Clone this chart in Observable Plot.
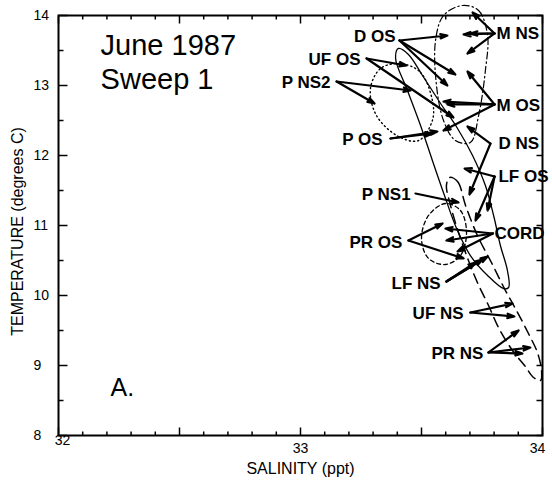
<!DOCTYPE html>
<html><head><meta charset="utf-8">
<script src="https://cdn.jsdelivr.net/npm/d3@7"></script>
<script src="https://cdn.jsdelivr.net/npm/@observablehq/plot@0.6"></script>
<style>body{margin:0;background:#fff}</style>
</head><body><div id="chart"></div>
<script>
// ---- station groups: label, arrow tail (salinity, temperature), label anchor, side
const groupNames   = ["D OS","UF OS","P NS2","P OS","P NS1","PR OS","LF NS","UF NS","PR NS","M NS","M OS","D NS","LF OS","CORD"];
const tailSalinity = [33.409,33.273,33.149,33.372,33.475,33.446,33.603,33.702,33.777,33.802,33.802,33.785,33.802,33.795];
const tailTemp     = [13.643,13.386,13.057,12.243,11.457,10.786,10.200, 9.757, 9.186,13.743,12.729,12.171,11.700,10.886];
const labelSalinity= [33.393,33.248,33.124,33.339,33.455,33.421,33.579,33.674,33.756,33.810,33.810,33.818,33.818,33.802];
const labelTemp    = [13.700,13.371,13.043,12.229,11.443,10.757,10.171, 9.743, 9.171,13.743,12.714,12.171,11.700,10.886];
const labelSide    = ["left","left","left","left","left","left","left","left","left","right","right","right","right","right"];

// ---- observations (arrow heads)
const obsGroup = ["D OS","D OS","D OS","UF OS","UF OS","P NS2","P NS2","P OS","P OS","P NS1","PR OS","PR OS",
  "LF NS","LF NS","LF NS","UF NS","UF NS","PR NS","PR NS","PR NS","M NS","M NS","M NS","M NS",
  "M OS","M OS","M OS","M OS","D NS","D NS","LF OS","LF OS","LF OS","CORD","CORD","CORD"];
const obsSalinity = [33.607,33.640,33.607,33.438,33.632,33.306,33.455,33.545,33.566,33.653,33.587,33.674,
  33.723,33.752,33.773,33.876,33.884,33.901,33.950,33.917,33.674,33.702,33.690,33.711,
  33.591,33.607,33.690,33.591,33.690,33.698,33.678,33.773,33.723,33.599,33.603,33.649];
const obsTemp = [13.714,13.157,13.000,13.286,12.543,12.743,12.929,12.314,12.343,11.329,11.029,10.529,
  10.471,10.514,10.557, 9.886, 9.700, 9.500, 9.257, 9.171,13.729,13.743,13.457,14.043,
  12.771,12.729,13.200,12.357,12.414,11.443,11.814,11.214,11.071,10.957,10.786,10.629];

// ---- outlined regions (salinity, temperature vertices)
const regionDashDot = [[33.669,14.143],[33.736,14.071],[33.773,13.714],[33.764,13.214],[33.736,12.571],[33.702,12.186],
  [33.640,12.214],[33.591,12.500],[33.562,13.000],[33.558,13.643],[33.591,14.000]];
const regionDotted = [[33.413,13.314],[33.496,13.186],[33.545,12.786],[33.545,12.500],[33.488,12.214],[33.405,12.271],
  [33.314,12.571],[33.289,12.957],[33.331,13.243]];
const regionSolid = [[33.405,13.529],[33.446,13.443],[33.504,13.143],[33.579,12.743],[33.649,12.386],[33.711,12.000],
  [33.764,11.571],[33.798,11.143],[33.826,10.714],[33.855,10.357],[33.860,10.114],[33.839,10.100],[33.773,10.286],
  [33.702,10.571],[33.645,10.957],[33.595,11.429],[33.545,11.929],[33.496,12.429],[33.442,12.929],[33.393,13.386]];
const regionLongDash = [[33.616,11.686],[33.649,11.629],[33.682,11.286],[33.731,10.857],[33.789,10.471],[33.847,10.071],
  [33.897,9.757],[33.942,9.457],[33.979,9.186],[33.996,8.929],[33.992,8.786],[33.963,8.829],[33.926,9.000],
  [33.876,9.214],[33.818,9.543],[33.777,9.857],[33.731,10.186],[33.694,10.500],[33.653,10.900],[33.620,11.286],[33.603,11.571]];
const regionShortDash = [[33.599,11.314],[33.661,11.214],[33.686,10.900],[33.661,10.571],[33.599,10.443],[33.529,10.529],
  [33.500,10.814],[33.529,11.143]];

// ---- axes
const xMajor = [32, 32.5, 33, 33.5, 34];
const xMinor = [32.1,32.2,32.3,32.4,32.6,32.7,32.8,32.9,33.1,33.2,33.3,33.4,33.6,33.7,33.8,33.9];
const xLabels = [32, 33, 34];
const yMajor = [8, 9, 10, 11, 12, 13, 14];
const yMinor = [8.5, 9.5, 10.5, 11.5, 12.5, 13.5];
const xTitle = "SALINITY (ppt)";
const yTitle = "TEMPERATURE (degrees C)";
const annotations = [
  {text: "June 1987", s: 32.174, t: 13.43},
  {text: "Sweep 1",   s: 32.174, t: 12.957}
];
const panelLetter = {text: "A.", s: 32.215, t: 8.571};

// ---- build tables
const groups = groupNames.map((g, i) => ({g, ts: tailSalinity[i], tt: tailTemp[i], ls: labelSalinity[i], lt: labelTemp[i], side: labelSide[i]}));
const byName = new Map(groups.map(d => [d.g, d]));
const arrows = obsGroup.map((g, i) => ({g, x1: byName.get(g).ts, y1: byName.get(g).tt, x2: obsSalinity[i], y2: obsTemp[i]}));
const toRows = arr => arr.map(([s, t]) => ({s, t}));

const font = "'Liberation Sans', Arial, Helvetica, sans-serif";
const W = 552, H = 486, ML = 58, MR = 10, MT = 15, MB = 51;
const FW = W - ML - MR, FH = H - MT - MB;
const XD = [32, 34], YD = [8, 14];
// tick lengths (pixels) expressed in data units
const px2t = p => p * (YD[1] - YD[0]) / FH;
const px2s = p => p * (XD[1] - XD[0]) / FW;
const xTickRows = xMajor.map(v => ({v, len: 8})).concat(xMinor.map(v => ({v, len: 4})));
const yTickRows = yMajor.map(v => ({v, len: 9})).concat(yMinor.map(v => ({v, len: 5})));

const chart = Plot.plot({
  width: W, height: H,
  marginLeft: ML, marginRight: MR, marginTop: MT, marginBottom: MB,
  x: {domain: XD, axis: null},
  y: {domain: YD, axis: null},
  style: {fontFamily: font, background: "#fff"},
  marks: [
    // regions
    Plot.line(toRows(regionDashDot), {x: "s", y: "t", curve: "catmull-rom-closed", stroke: "black", strokeWidth: 1.2, strokeDasharray: "7,3,1.5,3"}),
    Plot.line(toRows(regionDotted), {x: "s", y: "t", curve: "catmull-rom-closed", stroke: "black", strokeWidth: 1.4, strokeDasharray: "1.2,3", strokeLinecap: "round"}),
    Plot.line(toRows(regionSolid), {x: "s", y: "t", curve: "catmull-rom-closed", stroke: "black", strokeWidth: 1.3}),
    Plot.line(toRows(regionLongDash), {x: "s", y: "t", curve: "catmull-rom-closed", stroke: "black", strokeWidth: 1.5, strokeDasharray: "10,6"}),
    Plot.line(toRows(regionShortDash), {x: "s", y: "t", curve: "catmull-rom-closed", stroke: "black", strokeWidth: 1.3, strokeDasharray: "4,3"}),
    // arrows
    Plot.arrow(arrows, {x1: "x1", y1: "y1", x2: "x2", y2: "y2", stroke: "black", strokeWidth: 2.2, headLength: 5, headAngle: 35}),
    // group labels
    Plot.text(groups.filter(d => d.side === "left"), {x: "ls", y: "lt", text: "g", textAnchor: "end", fontWeight: "bold", fontSize: 17, fill: "black"}),
    Plot.text(groups.filter(d => d.side === "right"), {x: "ls", y: "lt", text: "g", textAnchor: "start", fontWeight: "bold", fontSize: 17, fill: "black"}),
    // annotations
    Plot.text(annotations, {x: "s", y: "t", text: "text", textAnchor: "start", lineAnchor: "bottom", fontSize: 29, fill: "black", letterSpacing: "1.2px"}),
    Plot.text([panelLetter], {x: "s", y: "t", text: "text", textAnchor: "start", lineAnchor: "bottom", fontSize: 25, fill: "black"}),
    // inward ticks
    Plot.link(xTickRows, {x1: "v", x2: "v", y1: () => YD[0], y2: d => YD[0] + px2t(d.len), stroke: "black", strokeWidth: 1.5}),
    Plot.link(xTickRows, {x1: "v", x2: "v", y1: () => YD[1], y2: d => YD[1] - px2t(d.len), stroke: "black", strokeWidth: 1.5}),
    Plot.link(yTickRows, {y1: "v", y2: "v", x1: () => XD[0], x2: d => XD[0] + px2s(d.len), stroke: "black", strokeWidth: 1.5}),
    Plot.link(yTickRows, {y1: "v", y2: "v", x1: () => XD[1], x2: () => XD[1] - px2s(6), stroke: "black", strokeWidth: 1.5}),
    // tick labels
    Plot.text(yMajor, {y: d => d, text: d => String(d), frameAnchor: "left", textAnchor: "start", dx: -25, fontSize: 14, fill: "black"}),
    Plot.text(xLabels.filter(d => d === 32), {x: d => d, text: d => String(d), frameAnchor: "bottom", textAnchor: "middle", dx: 4, dy: 9, fontSize: 14, fill: "black"}),
    Plot.text(xLabels.filter(d => d === 33), {x: d => d, text: d => String(d), frameAnchor: "bottom", textAnchor: "middle", dy: 17, fontSize: 14, fill: "black"}),
    Plot.text(xLabels.filter(d => d === 34), {x: d => d, text: d => String(d), frameAnchor: "bottom", textAnchor: "middle", dx: -5, dy: 17, fontSize: 14, fill: "black"}),
    // axis titles
    Plot.text([xTitle], {text: d => d, frameAnchor: "bottom", textAnchor: "middle", dy: 38, fontSize: 16, fill: "black", letterSpacing: "1px"}),
    Plot.text([yTitle], {text: d => d, frameAnchor: "middle", textAnchor: "middle", rotate: -90, dx: -(FW / 2 + 41), dy: 6, fontSize: 16, fill: "black", letterSpacing: "1px"}),
    Plot.frame({stroke: "black", strokeWidth: 2})
  ]
});
document.getElementById("chart").append(chart);
</script>
</body></html>
